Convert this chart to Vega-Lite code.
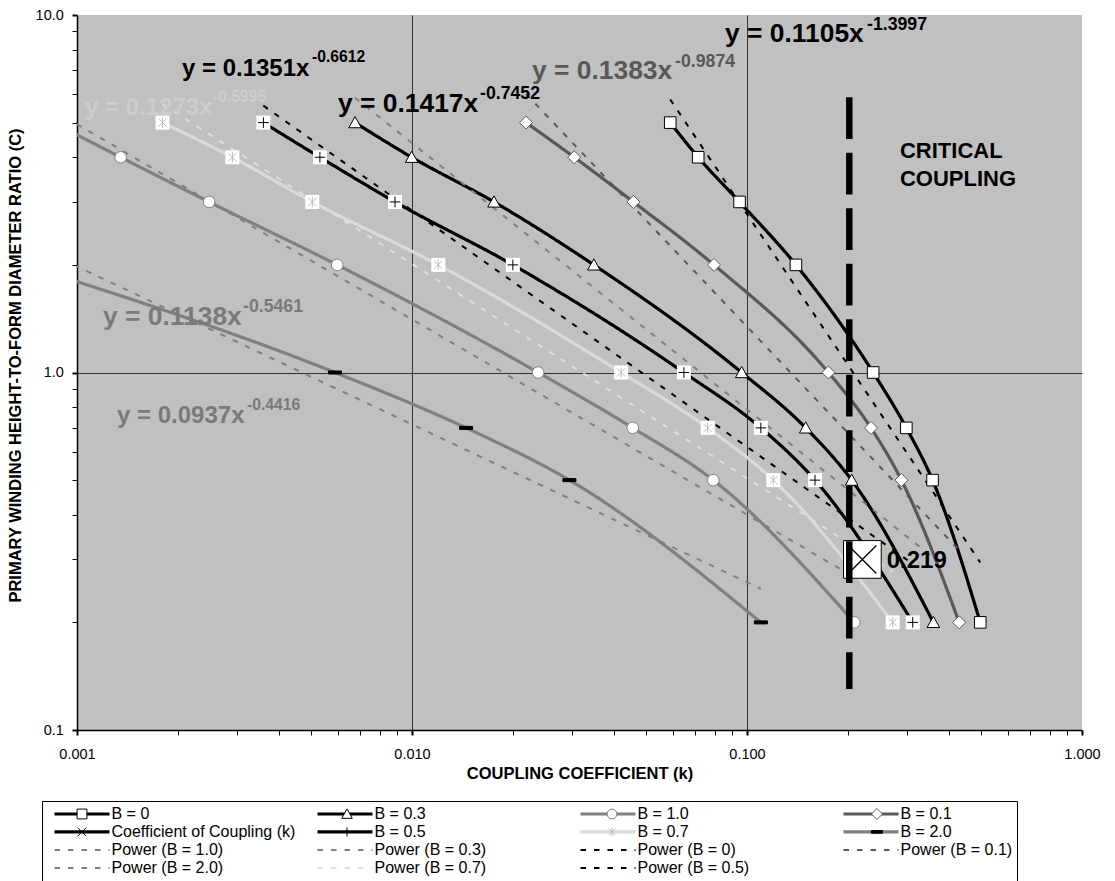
{
  "$schema": "https://vega.github.io/schema/vega-lite/v6.json",
  "width": 1005,
  "height": 715,
  "autosize": {"type": "none"},
  "padding": {"left": 77, "top": 15, "right": 33, "bottom": 151},
  "background": "white",
  "config": {"view": {"fill": "#c0c0c0", "stroke": null}, "font": "Liberation Sans"},
  "datasets": {
    "series": [
      {"series": "B = 0", "x": 0.059, "y": 5},
      {"series": "B = 0", "x": 0.0715, "y": 4},
      {"series": "B = 0", "x": 0.095, "y": 3},
      {"series": "B = 0", "x": 0.14, "y": 2},
      {"series": "B = 0", "x": 0.238, "y": 1},
      {"series": "B = 0", "x": 0.299, "y": 0.7},
      {"series": "B = 0", "x": 0.358, "y": 0.5},
      {"series": "B = 0", "x": 0.497, "y": 0.2},
      {"series": "B = 0.1", "x": 0.0219, "y": 5},
      {"series": "B = 0.1", "x": 0.0305, "y": 4},
      {"series": "B = 0.1", "x": 0.0458, "y": 3},
      {"series": "B = 0.1", "x": 0.0797, "y": 2},
      {"series": "B = 0.1", "x": 0.175, "y": 1},
      {"series": "B = 0.1", "x": 0.2345, "y": 0.7},
      {"series": "B = 0.1", "x": 0.289, "y": 0.5},
      {"series": "B = 0.1", "x": 0.43, "y": 0.2},
      {"series": "B = 0.3", "x": 0.00676, "y": 5},
      {"series": "B = 0.3", "x": 0.00998, "y": 4},
      {"series": "B = 0.3", "x": 0.01757, "y": 3},
      {"series": "B = 0.3", "x": 0.0349, "y": 2},
      {"series": "B = 0.3", "x": 0.0964, "y": 1},
      {"series": "B = 0.3", "x": 0.1497, "y": 0.7},
      {"series": "B = 0.3", "x": 0.2053, "y": 0.5},
      {"series": "B = 0.3", "x": 0.36, "y": 0.2},
      {"series": "B = 0.5", "x": 0.0036, "y": 5},
      {"series": "B = 0.5", "x": 0.00531, "y": 4},
      {"series": "B = 0.5", "x": 0.0089, "y": 3},
      {"series": "B = 0.5", "x": 0.02, "y": 2},
      {"series": "B = 0.5", "x": 0.0648, "y": 1},
      {"series": "B = 0.5", "x": 0.11, "y": 0.7},
      {"series": "B = 0.5", "x": 0.1596, "y": 0.5},
      {"series": "B = 0.5", "x": 0.3124, "y": 0.2},
      {"series": "B = 0.7", "x": 0.0018, "y": 5},
      {"series": "B = 0.7", "x": 0.00291, "y": 4},
      {"series": "B = 0.7", "x": 0.00504, "y": 3},
      {"series": "B = 0.7", "x": 0.01198, "y": 2},
      {"series": "B = 0.7", "x": 0.0421, "y": 1},
      {"series": "B = 0.7", "x": 0.0763, "y": 0.7},
      {"series": "B = 0.7", "x": 0.1198, "y": 0.5},
      {"series": "B = 0.7", "x": 0.2722, "y": 0.2},
      {"series": "B = 1.0", "x": 0.00085, "y": 5},
      {"series": "B = 1.0", "x": 0.00135, "y": 4},
      {"series": "B = 1.0", "x": 0.00248, "y": 3},
      {"series": "B = 1.0", "x": 0.00598, "y": 2},
      {"series": "B = 1.0", "x": 0.0238, "y": 1},
      {"series": "B = 1.0", "x": 0.0456, "y": 0.7},
      {"series": "B = 1.0", "x": 0.0793, "y": 0.5},
      {"series": "B = 1.0", "x": 0.209, "y": 0.2},
      {"series": "B = 2.0", "x": 0.0007, "y": 2},
      {"series": "B = 2.0", "x": 0.00589, "y": 1},
      {"series": "B = 2.0", "x": 0.0145, "y": 0.7},
      {"series": "B = 2.0", "x": 0.0295, "y": 0.5},
      {"series": "B = 2.0", "x": 0.11, "y": 0.2}
    ],
    "trend": [
      {"series": "Power (B = 0)", "x": 0.059, "y": 5.805},
      {"series": "Power (B = 0)", "x": 0.497, "y": 0.2941},
      {"series": "Power (B = 0.1)", "x": 0.0219, "y": 6.016},
      {"series": "Power (B = 0.1)", "x": 0.43, "y": 0.3183},
      {"series": "Power (B = 0.3)", "x": 0.00676, "y": 5.868},
      {"series": "Power (B = 0.3)", "x": 0.36, "y": 0.3034},
      {"series": "Power (B = 0.5)", "x": 0.0036, "y": 5.577},
      {"series": "Power (B = 0.5)", "x": 0.3124, "y": 0.2916},
      {"series": "Power (B = 0.7)", "x": 0.0018, "y": 5.627},
      {"series": "Power (B = 0.7)", "x": 0.2722, "y": 0.2777},
      {"series": "Power (B = 1.0)", "x": 0.00085, "y": 5.408},
      {"series": "Power (B = 1.0)", "x": 0.209, "y": 0.2676},
      {"series": "Power (B = 2.0)", "x": 0.0007, "y": 2.317},
      {"series": "Power (B = 2.0)", "x": 0.11, "y": 0.2483}
    ],
    "coef": [{"series": "Coefficient of Coupling (k)", "x": 0.221, "y": 0.3}],
    "crit": [{"x": 0.202, "y": 5.89, "y2": 0.1302}],
    "bigBlackMain": [
      {"x": 0.086, "y": 8.42, "text": "y = 0.1105x"},
      {"x": 0.006014, "y": 5.358, "text": "y = 0.1417x"}
    ],
    "bigBlackSup": [
      {"x": 0.2282, "y": 9.08, "text": "-1.3997"},
      {"x": 0.01596, "y": 5.814, "text": "-0.7452"}
    ],
    "bigDarkMain": [{"x": 0.02282, "y": 6.613, "text": "y = 0.1383x"}],
    "bigDarkSup": [{"x": 0.061, "y": 7.17, "text": "-0.9874"}],
    "bigGrayMain": [{"x": 0.001196, "y": 1.362, "text": "y = 0.1138x"}],
    "bigGraySup": [{"x": 0.00313, "y": 1.474, "text": "-0.5461"}],
    "smBlackMain": [
      {"x": 0.002057, "y": 6.755, "text": "y = 0.1351x"},
      {"x": 0.2612, "y": 0.2848, "text": "0.219"}
    ],
    "smBlackSup": [{"x": 0.005029, "y": 7.39, "text": "-0.6612"}],
    "smLightMain": [{"x": 0.001057, "y": 5.256, "text": "y = 0.1273x"}],
    "smLightSup": [{"x": 0.002547, "y": 5.726, "text": "-0.5995"}],
    "smGrayMain": [{"x": 0.001317, "y": 0.7236, "text": "y = 0.0937x"}],
    "smGraySup": [{"x": 0.003217, "y": 0.7846, "text": "-0.4416"}],
    "critText": [
      {"x": 0.2862, "y": 3.979, "text": "CRITICAL"},
      {"x": 0.2862, "y": 3.314, "text": "COUPLING"}
    ]
  },
  "encoding": {
    "x": {
      "field": "x", "type": "quantitative",
      "scale": {"type": "log", "domain": [0.001, 1], "nice": false},
      "axis": {
        "title": "COUPLING COEFFICIENT (k)",
        "values": [0.001,0.002,0.003,0.004,0.005,0.006,0.007,0.008,0.009,0.01,0.02,0.03,0.04,0.05,0.06,0.07,0.08,0.09,0.1,0.2,0.3,0.4,0.5,0.6,0.7,0.8,0.9,1],
        "labelExpr": "indexof([0.001,0.01,0.1,1], datum.value) >= 0 ? format(datum.value, '.3f') : ''",
        "labelFont": "Liberation Sans", "labelFontSize": 14.5, "labelColor": "black",
        "labelBaseline": "alphabetic", "labelPadding": 23.7, "labelFlush": false, "labelOverlap": false, "labelBound": false,
        "tickColor": "black", "tickSize": 5,
        "tickWidth": {"condition": {"test": "indexof([0.001,0.01,0.1,1], datum.value) >= 0", "value": 2}, "value": 1},
        "domainColor": "black", "domainWidth": 1.5,
        "grid": true, "gridColor": "#333333", "gridWidth": 1,
        "gridOpacity": {"condition": {"test": "datum.value == 0.01 || datum.value == 0.1", "value": 1}, "value": 0},
        "titleFont": "Liberation Sans", "titleFontSize": 16.5, "titleFontWeight": "bold", "titleColor": "black",
        "titleBaseline": "alphabetic", "titleY": 48
      }
    },
    "y": {
      "field": "y", "type": "quantitative",
      "scale": {"type": "log", "domain": [0.1, 10], "nice": false},
      "axis": {
        "title": "PRIMARY WINDING HEIGHT-TO-FORM DIAMETER RATIO (C)",
        "values": [0.1,0.2,0.3,0.4,0.5,0.6,0.7,0.8,0.9,1,2,3,4,5,6,7,8,9,10],
        "labelExpr": "indexof([0.1,1,10], datum.value) >= 0 ? format(datum.value, '.1f') : ''",
        "labelFont": "Liberation Sans", "labelFontSize": 14.5, "labelColor": "black",
        "labelBaseline": "middle", "labelPadding": 8.7, "labelFlush": false, "labelOverlap": false, "labelBound": false,
        "tickColor": "black", "tickSize": 5,
        "tickWidth": {"condition": {"test": "indexof([0.1,1,10], datum.value) >= 0", "value": 2}, "value": 1},
        "domainColor": "black", "domainWidth": 1.5,
        "grid": true, "gridColor": "#333333", "gridWidth": 1,
        "gridOpacity": {"condition": {"test": "datum.value == 1", "value": 1}, "value": 0},
        "titleFont": "Liberation Sans", "titleFontSize": 16.5, "titleFontWeight": "bold", "titleColor": "black",
        "titleAngle": -90, "titleAlign": "center", "titleBaseline": "alphabetic", "titleX": -56.8, "titleY": 350
      }
    }
  },
  "layer": [
    {
      "encoding": {
        "color": {
          "field": "series", "type": "nominal",
          "scale": {
            "domain": ["B = 0","B = 0.3","B = 1.0","B = 0.1","Coefficient of Coupling (k)","B = 0.5","B = 0.7","B = 2.0","Power (B = 1.0)","Power (B = 0.3)","Power (B = 0)","Power (B = 0.1)","Power (B = 2.0)","Power (B = 0.7)","Power (B = 0.5)"],
            "range": ["#000000","#000000","#808080","#595959","#000000","#000000","#dadada","#808080","#808080","#808080","#000000","#595959","#808080","#dedede","#000000"]
          },
          "legend": {
            "title": null, "orient": "none", "legendX": -35, "legendY": 786,
            "direction": "horizontal", "columns": 4, "gridAlign": "all",
            "symbolType": "stroke", "symbolSize": 3025, "clipHeight": 17.8,
            "rowPadding": 0, "columnPadding": 13, "labelOffset": 0, "symbolOffset": 6.5,
            "labelFont": "Liberation Sans", "labelFontSize": 16, "labelColor": "black", "labelLimit": 400,
            "padding": 4, "strokeColor": "black", "fillColor": "white", "cornerRadius": 0
          }
        },
        "strokeDash": {
          "field": "series", "type": "nominal",
          "scale": {
            "domain": ["B = 0","B = 0.3","B = 1.0","B = 0.1","Coefficient of Coupling (k)","B = 0.5","B = 0.7","B = 2.0","Power (B = 1.0)","Power (B = 0.3)","Power (B = 0)","Power (B = 0.1)","Power (B = 2.0)","Power (B = 0.7)","Power (B = 0.5)"],
            "range": [[1,0],[1,0],[1,0],[1,0],[1,0],[1,0],[1,0],[1,0],[5.5,8],[5.5,8],[5.5,8],[5.5,8],[5.5,8],[5.5,8],[5.5,8]]
          }
        },
        "strokeWidth": {
          "field": "series", "type": "ordinal",
          "scale": {
            "type": "ordinal",
            "domain": ["B = 0","B = 0.3","B = 1.0","B = 0.1","Coefficient of Coupling (k)","B = 0.5","B = 0.7","B = 2.0","Power (B = 1.0)","Power (B = 0.3)","Power (B = 0)","Power (B = 0.1)","Power (B = 2.0)","Power (B = 0.7)","Power (B = 0.5)"],
            "range": [3.2,3.2,3.2,3.2,3.2,3.2,3.2,3.2,2,2,2,2,2,2,2]
          }
        }
      },
      "layer": [
        {"data": {"name": "series"}, "mark": {"type": "line", "interpolate": "monotone", "clip": true}},
        {"data": {"name": "trend"}, "mark": {"type": "line", "clip": true}}
      ]
    },
    {
      "data": {"name": "series"},
      "transform": [{"filter": {"field": "series", "oneOf": ["B = 0.5", "B = 0.7"]}}],
      "mark": {"type": "point", "shape": "square", "size": 196, "filled": true, "fill": "white", "strokeWidth": 0, "opacity": 1, "clip": true}
    },
    {
      "data": {"name": "series"},
      "mark": {"type": "point", "filled": true, "size": 4706, "strokeWidth": 1, "opacity": 1, "clip": true},
      "encoding": {
        "shape": {
          "field": "series", "type": "nominal",
          "scale": {
            "domain": ["B = 0","B = 0.3","B = 1.0","B = 0.1","Coefficient of Coupling (k)","B = 0.5","B = 0.7","B = 2.0","Power (B = 1.0)","Power (B = 0.3)","Power (B = 0)","Power (B = 0.1)","Power (B = 2.0)","Power (B = 0.7)","Power (B = 0.5)"," "],
            "range": [
              "M-0.169,-0.169L0.169,-0.169L0.169,0.169L-0.169,0.169Z",
              "M0,-0.175L0.183,0.15L-0.183,0.15Z",
              "M-0.169,0A0.169,0.169,0,1,0,0.169,0A0.169,0.169,0,1,0,-0.169,0Z",
              "M0,-0.19L0.19,0L0,0.19L-0.19,0Z",
              "M-0.146,-0.146L0.146,0.146M-0.146,0.146L0.146,-0.146",
              "M-0.155,0L0.155,0M0,-0.155L0,0.155",
              "M0,-0.155L0,0.155M-0.12,-0.12L0.12,0.12M-0.12,0.12L0.12,-0.12",
              "M-0.19,-0.044L0.19,-0.044L0.19,0.044L-0.19,0.044Z",
              "M0,0","M0,0","M0,0","M0,0","M0,0","M0,0","M0,0","M0,0"
            ]
          },
          "legend": {
            "title": null, "orient": "none", "legendX": -35, "legendY": 786,
            "direction": "horizontal", "columns": 4, "gridAlign": "all",
            "symbolSize": 3364, "symbolStrokeWidth": 1, "clipHeight": 17.8,
            "rowPadding": 0, "columnPadding": 199, "labelOffset": 0, "symbolOffset": 6.5,
            "labelFont": "Liberation Sans", "labelFontSize": 16, "labelExpr": "''", "labelLimit": 400,
            "padding": 4
          }
        },
        "fill": {
          "field": "series", "type": "nominal",
          "scale": {
            "domain": ["B = 0","B = 0.3","B = 1.0","B = 0.1","Coefficient of Coupling (k)","B = 0.5","B = 0.7","B = 2.0","Power (B = 1.0)","Power (B = 0.3)","Power (B = 0)","Power (B = 0.1)","Power (B = 2.0)","Power (B = 0.7)","Power (B = 0.5)"," "],
            "range": ["#ffffff","#ffffff","#ffffff","#ffffff","#ffffff","#ffffff","#ffffff","#000000","#ffffff","#ffffff","#ffffff","#ffffff","#ffffff","#ffffff","#ffffff","#ffffff"]
          }
        },
        "stroke": {
          "field": "series", "type": "nominal",
          "scale": {
            "domain": ["B = 0","B = 0.3","B = 1.0","B = 0.1","Coefficient of Coupling (k)","B = 0.5","B = 0.7","B = 2.0","Power (B = 1.0)","Power (B = 0.3)","Power (B = 0)","Power (B = 0.1)","Power (B = 2.0)","Power (B = 0.7)","Power (B = 0.5)"," "],
            "range": ["#000000","#000000","#808080","#595959","#000000","#000000","#bdbdbd","#000000","#000000","#000000","#000000","#000000","#000000","#000000","#000000","#000000"]
          }
        }
      }
    },
    {
      "data": {"name": "coef"},
      "mark": {"type": "point", "shape": "square", "size": 1421, "filled": true, "fill": "white", "stroke": "black", "strokeWidth": 1, "opacity": 1}
    },
    {
      "data": {"name": "coef"},
      "mark": {"type": "point", "filled": true, "size": 36790, "strokeWidth": 1.3, "opacity": 1},
      "encoding": {
        "shape": {"field": "series", "type": "nominal"},
        "fill": {"field": "series", "type": "nominal"},
        "stroke": {"field": "series", "type": "nominal"}
      }
    },
    {
      "data": {"name": "crit"},
      "mark": {"type": "rule", "color": "black", "strokeWidth": 6.5, "strokeDash": [41.7, 13.8], "strokeCap": "butt"},
      "encoding": {"y2": {"field": "y2"}}
    },
    {
      "data": {"name": "bigBlackMain"},
      "mark": {"type": "text", "align": "left", "baseline": "alphabetic", "font": "Liberation Sans", "fontWeight": "bold", "fontSize": 26.4, "color": "#000000"},
      "encoding": {"text": {"field": "text"}}
    },
    {
      "data": {"name": "bigBlackSup"},
      "mark": {"type": "text", "align": "left", "baseline": "alphabetic", "font": "Liberation Sans", "fontWeight": "bold", "fontSize": 17.7, "color": "#000000"},
      "encoding": {"text": {"field": "text"}}
    },
    {
      "data": {"name": "bigDarkMain"},
      "mark": {"type": "text", "align": "left", "baseline": "alphabetic", "font": "Liberation Sans", "fontWeight": "bold", "fontSize": 26.4, "color": "#595959"},
      "encoding": {"text": {"field": "text"}}
    },
    {
      "data": {"name": "bigDarkSup"},
      "mark": {"type": "text", "align": "left", "baseline": "alphabetic", "font": "Liberation Sans", "fontWeight": "bold", "fontSize": 17.7, "color": "#595959"},
      "encoding": {"text": {"field": "text"}}
    },
    {
      "data": {"name": "bigGrayMain"},
      "mark": {"type": "text", "align": "left", "baseline": "alphabetic", "font": "Liberation Sans", "fontWeight": "bold", "fontSize": 26.4, "color": "#7a7a7a"},
      "encoding": {"text": {"field": "text"}}
    },
    {
      "data": {"name": "bigGraySup"},
      "mark": {"type": "text", "align": "left", "baseline": "alphabetic", "font": "Liberation Sans", "fontWeight": "bold", "fontSize": 17.7, "color": "#7a7a7a"},
      "encoding": {"text": {"field": "text"}}
    },
    {
      "data": {"name": "smBlackMain"},
      "mark": {"type": "text", "align": "left", "baseline": "alphabetic", "font": "Liberation Sans", "fontWeight": "bold", "fontSize": 24, "color": "#000000"},
      "encoding": {"text": {"field": "text"}}
    },
    {
      "data": {"name": "smBlackSup"},
      "mark": {"type": "text", "align": "left", "baseline": "alphabetic", "font": "Liberation Sans", "fontWeight": "bold", "fontSize": 15.7, "color": "#000000"},
      "encoding": {"text": {"field": "text"}}
    },
    {
      "data": {"name": "smLightMain"},
      "mark": {"type": "text", "align": "left", "baseline": "alphabetic", "font": "Liberation Sans", "fontWeight": "bold", "fontSize": 24, "color": "#cdcdcd"},
      "encoding": {"text": {"field": "text"}}
    },
    {
      "data": {"name": "smLightSup"},
      "mark": {"type": "text", "align": "left", "baseline": "alphabetic", "font": "Liberation Sans", "fontWeight": "bold", "fontSize": 15.7, "color": "#cdcdcd"},
      "encoding": {"text": {"field": "text"}}
    },
    {
      "data": {"name": "smGrayMain"},
      "mark": {"type": "text", "align": "left", "baseline": "alphabetic", "font": "Liberation Sans", "fontWeight": "bold", "fontSize": 24, "color": "#7a7a7a"},
      "encoding": {"text": {"field": "text"}}
    },
    {
      "data": {"name": "smGraySup"},
      "mark": {"type": "text", "align": "left", "baseline": "alphabetic", "font": "Liberation Sans", "fontWeight": "bold", "fontSize": 15.7, "color": "#7a7a7a"},
      "encoding": {"text": {"field": "text"}}
    },
    {
      "data": {"name": "critText"},
      "mark": {"type": "text", "align": "left", "baseline": "alphabetic", "font": "Liberation Sans", "fontWeight": "bold", "fontSize": 22, "color": "#000000"},
      "encoding": {"text": {"field": "text"}}
    }
  ]
}
